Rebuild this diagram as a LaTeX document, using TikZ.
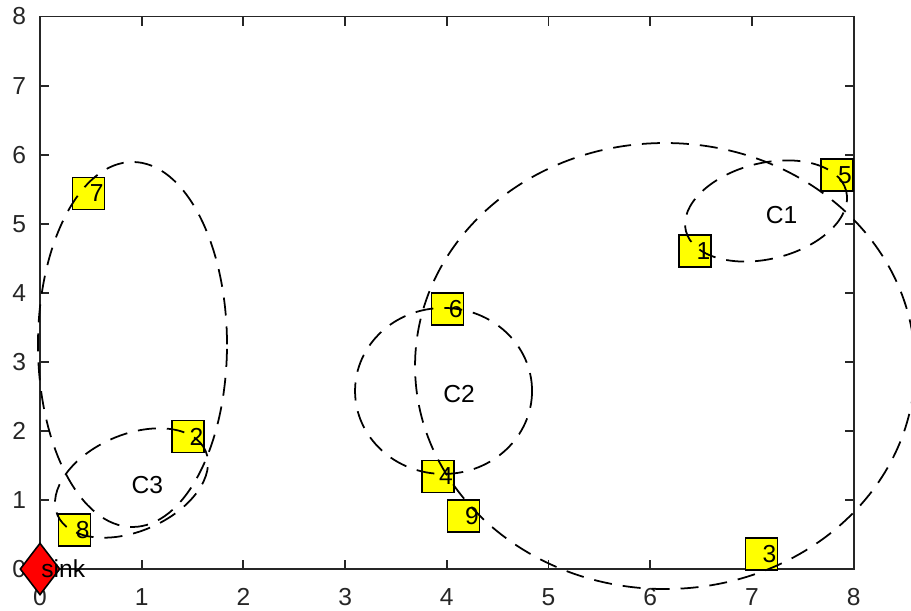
\documentclass[tikz,border=0pt]{standalone}
\usepackage{fontspec}
\setmainfont{Liberation Sans}
\usetikzlibrary{shapes.geometric}
\definecolor{axisgray}{RGB}{38,38,38}
\definecolor{markyellow}{RGB}{255,255,0}
\definecolor{sinkred}{RGB}{255,0,0}
\tikzset{
  plotfont/.style={
    font=\fontsize{14}{16}\selectfont
  },
  axisline/.style={draw=axisgray, line width=1.1pt},
  ticklbl/.style={text=axisgray, inner sep=0pt},
  node-sq/.style={
    rectangle,
    draw=black,
    fill=markyellow,
    line width=0.9pt,
    minimum size=0.64cm,
    inner sep=0pt
  },
  node-sink/.style={
    diamond,
    draw=black,
    fill=sinkred,
    line width=0.9pt,
    minimum width=0.8cm,
    minimum height=1.04cm,
    inner sep=0pt
  },
  numlbl/.style={anchor=west, inner sep=0pt, xshift=0.02cm},
  cluster/.style={black, line width=1pt, dash pattern=on 0.36cm off 0.22cm}
}

\begin{document}
\begin{tikzpicture}[x=2.034cm, y=1.3812cm, plotfont]
  \useasboundingbox (-0.8cm,-0.84cm) rectangle (17.42cm,11.38cm);
  \foreach \t in {0,...,8} {
    \draw[axisline] (\t,0) -- ++(0,0.18cm);
    \draw[axisline] (\t,8) -- ++(0,-0.18cm);
    \draw[axisline] (0,\t) -- ++(0.18cm,0);
    \draw[axisline] (8,\t) -- ++(-0.18cm,0);
    \node[ticklbl] (xt\t) at ([yshift=-0.56cm]\t,0) {\t};
    \node[ticklbl, anchor=east] (yt\t) at ([xshift=-0.27cm]0,\t) {\t};
  }
  \draw[axisline] (0,0) rectangle (8,8);
  % sensor nodes
  \node[node-sq] (n1) at (6.443,4.608) {};
  \node[node-sq] (n2) at (1.458,1.919) {};
  \node[node-sq] (n3) at (7.093,0.214) {};
  \node[node-sq] (n4) at (3.912,1.339) {};
  \node[node-sq] (n5) at (7.835,5.702) {};
  \node[node-sq] (n6) at (4.007,3.762) {};
  \node[node-sq] (n7) at (0.477,5.440) {};
  \node[node-sq] (n8) at (0.339,0.562) {};
  \node[node-sq] (n9) at (4.166,0.770) {};
  \node[node-sink] (sink) at (0,0) {};
  % cluster outlines
  \draw[cluster, rotate around={14:(7.139,5.184)}] (7.139,5.184)
    ellipse [x radius=1.652cm, y radius=0.958cm];
  \draw[cluster] (6.146,2.939) ellipse [x radius=5cm, y radius=4.46cm];
  \draw[cluster] (3.968,2.578) ellipse [x radius=1.77cm, y radius=1.66cm];
  \draw[cluster] (0.9095,3.251) ellipse [x radius=1.89cm, y radius=3.65cm];
  \draw[cluster, rotate around={23.4:(0.900,1.245)}] (0.900,1.245)
    ellipse [x radius=1.614cm, y radius=0.966cm];
  \foreach \n in {1,...,9}
    \node[numlbl] (l\n) at (n\n.center) {\n};
  \node[numlbl] (lsink) at (sink.center) {sink};
  \node (c1lbl) at (7.293,5.126) {C1};
  \node (c2lbl) at (4.120,2.534) {C2};
  \node (c3lbl) at (1.055,1.216) {C3};
\end{tikzpicture}
\end{document}
